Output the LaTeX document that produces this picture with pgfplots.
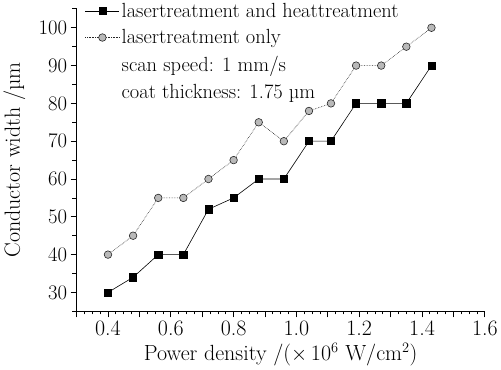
\documentclass[border=0pt]{standalone}
\usepackage{pgfplots}
\pgfplotsset{compat=1.18}
\begin{document}
\begin{tikzpicture}
\begin{axis}[
  scale only axis,
  width=409pt, height=303pt,
  xmin=0.3, xmax=1.6, ymin=25, ymax=105,
  axis x line*=bottom, axis y line*=left,
  axis line style={-, line width=0.8pt},
  tick align=outside,
  xtick={0.3,0.4,...,1.61},
  xticklabels={,0.4,,0.6,,0.8,,1.0,,1.2,,1.4,,1.6},
  ytick={30,40,...,100},
  extra y ticks={25,35,...,105}, extra y tick labels={},
  minor x tick num=3, minor y tick num=1,
  major tick length=6pt, minor tick length=3pt,
  extra y tick style={major tick length=4.5pt},
  tick style={line width=0.8pt, black},
  ticklabel style={font=\fontsize{22}{24}\selectfont},
  x tick label style={/pgf/number format/fixed, /pgf/number format/fixed zerofill, /pgf/number format/precision=1},
  xlabel={Power density /($\times$\,10$^{6}$ W/cm$^{2}$)},
  ylabel={Conductor width /µm},
  label style={font=\fontsize{22}{24}\selectfont},
  xlabel style={yshift=-1pt},
  ylabel style={yshift=-4pt},
  legend style={draw=none, fill=none, at={(0.018,1.03)}, anchor=north west,
    font=\fontsize{20.5}{24}\selectfont, row sep=7pt, inner sep=1pt,
    nodes={inner ysep=2pt}},
  legend cell align=left,
]
\addlegendimage{legend image code/.code={%
  \draw[black, line width=0.6pt] (0pt,0pt) -- (34pt,0pt);
  \fill[black] (13.4pt,-3.6pt) rectangle (20.6pt,3.6pt);}}
\addlegendentry{lasertreatment and heattreatment}
\addlegendimage{legend image code/.code={%
  \draw[black!85, line width=0.6pt, densely dotted] (0pt,0pt) -- (34pt,0pt);
  \draw[solid, line width=0.6pt, fill=gray!55, draw=black!85] (17pt,0pt) circle (3.8pt);}}
\addlegendentry{lasertreatment only}
\addlegendimage{empty legend}
\addlegendentry{scan speed: 1 mm/s}
\addlegendimage{empty legend}
\addlegendentry{coat thickness: 1.75 µm}
\addplot[forget plot, black, line width=0.6pt, mark=square*, mark size=3.6pt, mark options={solid}] coordinates {
(0.40,30) (0.48,34) (0.56,40) (0.64,40) (0.72,52) (0.80,55) (0.88,60) (0.96,60)
(1.04,70) (1.11,70) (1.19,80) (1.27,80) (1.35,80) (1.43,90)};
\addplot[forget plot, black!85, line width=0.6pt, densely dotted, mark=*, mark size=3.8pt, mark options={solid, fill=gray!55, draw=black!85}] coordinates {
(0.40,40) (0.48,45) (0.56,55) (0.64,55) (0.72,60) (0.80,65) (0.88,75) (0.96,70)
(1.04,78) (1.11,80) (1.19,90) (1.27,90) (1.35,95) (1.43,100)};
\end{axis}
\end{tikzpicture}
\end{document}
